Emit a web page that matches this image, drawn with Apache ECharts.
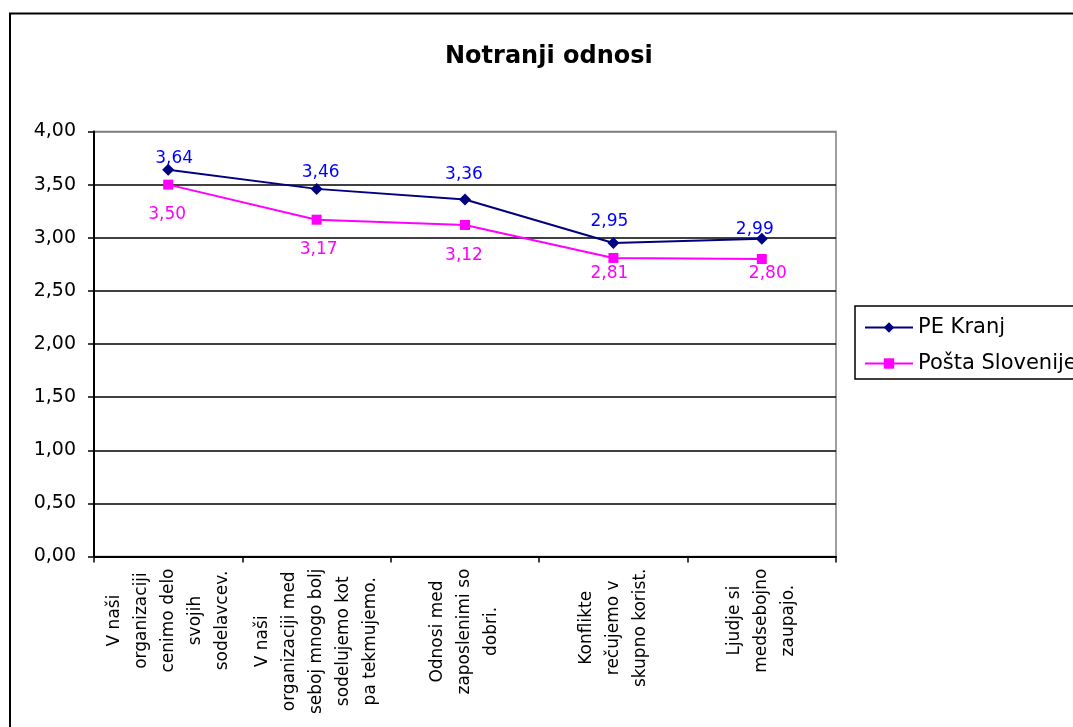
<!DOCTYPE html>
<html>
<head>
<meta charset="utf-8">
<title>Notranji odnosi</title>
<script src="https://cdn.jsdelivr.net/npm/echarts@6/dist/echarts.min.js"></script>
<style>
  html, body { margin: 0; padding: 0; background: #fff; }
  #chart { width: 1073px; height: 727px; }
</style>
</head>
<body>
<div id="chart"></div>
<script>
// Survey statements (category axis)
const categories = [
  'V naši\norganizaciji\ncenimo delo\nsvojih\nsodelavcev.',
  'V naši\norganizaciji med\nseboj mnogo bolj\nsodelujemo kot\npa tekmujemo.',
  'Odnosi med\nzaposlenimi so\ndobri.',
  'Konflikte\nrečujemo v\nskupno korist.',
  'Ljudje si\nmedsebojno\nzaupajo.'
];

// Average scores
const seriesNames = ['PE Kranj', 'Pošta Slovenije'];
const peKranj = [3.64, 3.46, 3.36, 2.95, 2.99];
const postaSlovenije = [3.50, 3.17, 3.12, 2.81, 2.80];

// Value axis range and step
const yMin = 0;
const yMax = 4;
const yStep = 0.5;

const FONT = 'DejaVu Sans';
const fmt = v => v.toFixed(2).replace('.', ',');

// Per-point label nudges (label centre relative to the marker)
const kranjLabelNudge = [[6, -11], [4, -16], [-1, -25], [-4, -21], [-7, -9]];
const postaLabelNudge = [[-1, 30], [2, 30], [-1, 31], [-4, 16], [6, 15]];

function withLabels(values, nudges) {
  return values.map((v, i) => ({ value: v, label: { offset: nudges[i] } }));
}

// Horizontal grid lines: black, top edge grey like the plot frame
const splitCount = Math.round((yMax - yMin) / yStep) + 1;
const splitColors = [];
for (let i = 0; i < splitCount; i++) splitColors.push(i === splitCount - 1 ? '#808080' : '#000000');

const chart = echarts.init(document.getElementById('chart'), null, { renderer: 'canvas' });

chart.setOption({
  animation: false,
  backgroundColor: '#ffffff',
  textStyle: { fontFamily: FONT },
  graphic: [{
    type: 'rect',
    silent: true,
    z: -10,
    shape: { x: 10, y: 13.5, width: 1300, height: 1000 },
    style: { fill: 'none', stroke: '#000000', lineWidth: 2 }
  }],
  title: {
    text: 'Notranji odnosi',
    left: 440,
    top: 40,
    textStyle: { fontFamily: FONT, fontSize: 24, fontWeight: 'bold', color: '#000000' }
  },
  legend: {
    data: seriesNames,
    orient: 'vertical',
    align: 'left',
    left: 855,
    top: 306,
    padding: [11, 6, 5, 9],
    itemGap: 15,
    itemWidth: 48,
    itemHeight: 13,
    backgroundColor: '#ffffff',
    borderColor: '#000000',
    borderWidth: 1.5,
    borderRadius: 0,
    selectedMode: false,
    textStyle: { fontFamily: FONT, fontSize: 21, color: '#000000' }
  },
  grid: {
    left: 94,
    top: 131.5,
    width: 742,
    height: 425,
    containLabel: false,
    outerBoundsMode: 'none',
    show: true,
    backgroundColor: 'transparent',
    borderColor: '#808080',
    borderWidth: 1.5
  },
  xAxis: {
    type: 'category',
    data: categories,
    boundaryGap: true,
    axisLine: { show: true, lineStyle: { color: '#000000', width: 2 } },
    axisTick: { show: true, inside: false, length: 6, interval: 0, lineStyle: { color: '#000000', width: 1.5 } },
    splitLine: { show: false },
    axisLabel: {
      interval: 0,
      rotate: 90,
      margin: 12,
      hideOverlap: false,
      formatter: v => v.split('\n').map(s => '{c|' + s + '}').join('\n'),
      rich: {
        c: { align: 'center', lineHeight: 27, fontSize: 17, fontFamily: FONT, color: '#000000' }
      }
    }
  },
  yAxis: {
    type: 'value',
    min: yMin,
    max: yMax,
    interval: yStep,
    axisLine: { show: true, lineStyle: { color: '#000000', width: 2 } },
    axisTick: { show: true, inside: false, length: 6, lineStyle: { color: '#000000', width: 1.5 } },
    splitLine: { show: true, lineStyle: { color: splitColors, width: 1.6 } },
    axisLabel: {
      margin: 18,
      formatter: v => fmt(v),
      fontFamily: FONT,
      fontSize: 19,
      color: '#000000'
    }
  },
  series: [
    {
      name: seriesNames[0],
      type: 'line',
      data: withLabels(peKranj, kranjLabelNudge),
      symbol: 'diamond',
      symbolSize: 12,
      showSymbol: true,
      lineStyle: { color: '#000080', width: 2 },
      itemStyle: { color: '#000080' },
      label: {
        show: true,
        position: 'inside',
        formatter: p => fmt(p.value),
        fontFamily: FONT,
        fontSize: 17,
        color: '#0000FF'
      },
      emphasis: { disabled: true },
      z: 3
    },
    {
      name: seriesNames[1],
      type: 'line',
      data: withLabels(postaSlovenije, postaLabelNudge),
      symbol: 'rect',
      symbolSize: 10,
      showSymbol: true,
      lineStyle: { color: '#FF00FF', width: 2 },
      itemStyle: { color: '#FF00FF' },
      label: {
        show: true,
        position: 'inside',
        formatter: p => fmt(p.value),
        fontFamily: FONT,
        fontSize: 17,
        color: '#FF00FF'
      },
      emphasis: { disabled: true },
      z: 2
    }
  ]
});
</script>
</body>
</html>
